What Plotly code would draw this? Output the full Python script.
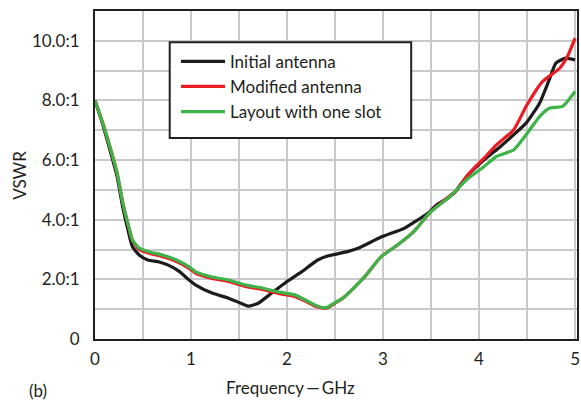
import plotly.graph_objects as go

# ---- data ----
freq_initial = [0, 0.08, 0.155, 0.23, 0.29, 0.34, 0.39, 0.46, 0.55, 0.67, 0.8, 0.88, 0.98, 1.05,
                1.22, 1.39, 1.52, 1.6, 1.7, 1.84, 1.98, 2.15, 2.32, 2.43, 2.63, 2.74, 2.98, 3.22,
                3.36, 3.46, 3.56, 3.64, 3.74, 3.87, 4.05, 4.22, 4.36, 4.49, 4.63, 4.73, 4.8, 4.9, 5.0]
vswr_initial = [8.0, 7.2, 6.35, 5.45, 4.4, 3.7, 3.09, 2.82, 2.65, 2.58, 2.42, 2.26, 1.98, 1.81,
                1.54, 1.37, 1.2, 1.1, 1.2, 1.54, 1.88, 2.25, 2.65, 2.79, 2.93, 3.04, 3.42, 3.71,
                3.99, 4.2, 4.5, 4.66, 4.89, 5.45, 6.0, 6.45, 6.85, 7.24, 7.91, 8.69, 9.25, 9.42, 9.36]

freq_modified = [0, 0.08, 0.155, 0.23, 0.29, 0.34, 0.39, 0.46, 0.57, 0.7, 0.85, 0.98, 1.05, 1.22,
                 1.39, 1.57, 1.74, 1.91, 2.08, 2.19, 2.32, 2.41, 2.5, 2.6, 2.81, 2.98, 3.15, 3.32,
                 3.49, 3.62, 3.77, 3.9, 4.05, 4.18, 4.36, 4.49, 4.66, 4.84, 4.92, 5.0]
vswr_modified = [8.0, 7.25, 6.45, 5.57, 4.56, 3.9, 3.3, 3.0, 2.87, 2.77, 2.6, 2.37, 2.2, 2.03,
                 1.93, 1.76, 1.66, 1.53, 1.43, 1.27, 1.07, 1.03, 1.2, 1.42, 2.09, 2.76, 3.15, 3.6,
                 4.25, 4.6, 5.0, 5.57, 6.06, 6.51, 7.01, 7.8, 8.63, 9.08, 9.47, 10.09]

freq_slot = [0, 0.08, 0.155, 0.23, 0.29, 0.34, 0.39, 0.46, 0.57, 0.7, 0.85, 0.98, 1.05, 1.22,
             1.39, 1.57, 1.74, 1.91, 2.08, 2.19, 2.32, 2.41, 2.5, 2.6, 2.81, 2.98, 3.15, 3.32,
             3.49, 3.7, 3.87, 4.05, 4.18, 4.36, 4.49, 4.63, 4.73, 4.87, 5.0]
vswr_slot = [8.0, 7.25, 6.45, 5.57, 4.56, 3.9, 3.32, 3.05, 2.92, 2.82, 2.65, 2.42, 2.25, 2.08,
             1.98, 1.81, 1.71, 1.58, 1.48, 1.31, 1.1, 1.05, 1.22, 1.42, 2.09, 2.76, 3.15, 3.6,
             4.25, 4.78, 5.34, 5.78, 6.12, 6.34, 6.85, 7.46, 7.74, 7.8, 8.3]

series_names = ["Initial antenna", "Modified antenna", "Layout with one slot"]
series_colors = ["#1c1c1c", "#ec1c24", "#3db34a"]

x_tickvals = [0, 1, 2, 3, 4, 5]
x_ticktext = ["0", "1", "2", "3", "4", "5"]
y_tickvals = [0, 2, 4, 6, 8, 10]
y_ticktext = ["0", "2.0:1", "4.0:1", "6.0:1", "8.0:1", "10.0:1"]

FONT = "Lato"
TXT = "#231f20"

fig = go.Figure()
for fx, vy, name, col in zip([freq_initial, freq_modified, freq_slot],
                             [vswr_initial, vswr_modified, vswr_slot],
                             series_names, series_colors):
    fig.add_trace(go.Scatter(x=fx, y=vy, mode="lines", name=name, legendgroup=name,
                             line=dict(color=col, width=3.2, shape="spline", smoothing=0.5)))

# legend frame
fig.add_shape(type="rect", xref="paper", yref="paper", x0=0.155, x1=0.656, y0=0.613, y1=0.905,
              line=dict(color="#231f20", width=2), fillcolor="white", layer="above")

fig.update_layout(
    width=581, height=403,
    margin=dict(l=95, r=1, t=11, b=64),
    paper_bgcolor="white", plot_bgcolor="white",
    font=dict(family=FONT, size=17, color=TXT),
    showlegend=True,
    legend=dict(x=0.168, y=0.90, xanchor="left", yanchor="top", bgcolor="rgba(0,0,0,0)",
                borderwidth=0, font=dict(size=17, family=FONT, color=TXT), tracegroupgap=0,
                itemwidth=44),
    xaxis=dict(range=[0, 5.02], tickvals=x_tickvals, ticktext=x_ticktext,
               showgrid=True, gridcolor="#c9c9cb", gridwidth=1.5,
               minor=dict(dtick=0.5, showgrid=True, gridcolor="#c9c9cb", gridwidth=1.5),
               showline=True, linecolor="#231f20", linewidth=2, mirror=True,
               ticks="outside", ticklen=4, tickcolor="rgba(0,0,0,0)", zeroline=False,
               tickfont=dict(size=17), ticklabeloverflow="allow"),
    yaxis=dict(range=[0, 11], tickvals=y_tickvals, ticktext=y_ticktext,
               showgrid=True, gridcolor="#c9c9cb", gridwidth=1.5,
               minor=dict(dtick=1, showgrid=True, gridcolor="#c9c9cb", gridwidth=1.5),
               showline=True, linecolor="#231f20", linewidth=2, mirror=True,
               ticks="outside", ticklen=10, tickcolor="rgba(0,0,0,0)", zeroline=False,
               tickfont=dict(size=17)),
    annotations=[
        dict(text="Frequency\u2009\u2014\u2009GHz", xref="paper", yref="paper", x=0.405, y=-0.148,
             xanchor="center", yanchor="middle", showarrow=False, font=dict(size=17)),
        dict(text="(b)", xref="paper", yref="paper", x=-0.119, y=-0.157,
             xanchor="center", yanchor="middle", showarrow=False, font=dict(size=17)),
        dict(text="VSWR", xref="paper", yref="paper", x=-0.158, y=0.5, textangle=-90,
             xanchor="center", yanchor="middle", showarrow=False, font=dict(size=17)),
    ],
)

fig.write_html("out.html")
